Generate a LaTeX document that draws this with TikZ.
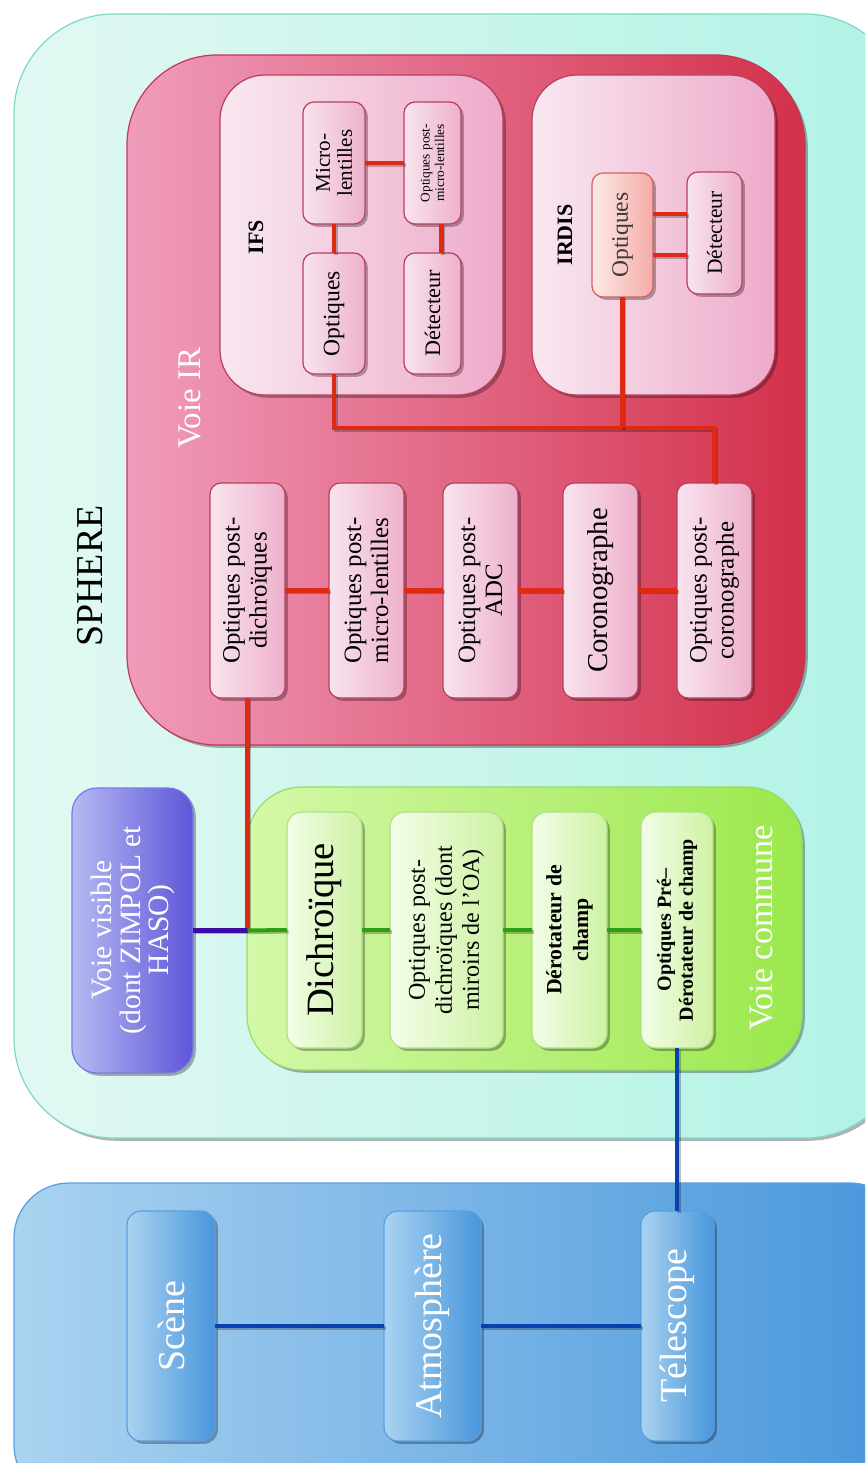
\documentclass[tikz,border=0pt]{standalone}
\usepackage{fontspec}
\setmainfont{Liberation Serif}
\usetikzlibrary{fit,shadows,calc}
\definecolor{tealL}{HTML}{E2F8F3}
\definecolor{tealR}{HTML}{B0F3E5}
\definecolor{tealD}{HTML}{7FD9CB}
\definecolor{irL}{HTML}{F09CBC}
\definecolor{irR}{HTML}{D3304A}
\definecolor{irD}{HTML}{C23A58}
\definecolor{subL}{HTML}{F8E8F0}
\definecolor{subR}{HTML}{EEAACA}
\definecolor{subD}{HTML}{B8405E}
\definecolor{pnL}{HTML}{F8E4EE}
\definecolor{pnR}{HTML}{EEB0CC}
\definecolor{salL}{HTML}{FDEAE6}
\definecolor{salR}{HTML}{F5ACA8}
\definecolor{salD}{HTML}{D66060}
\definecolor{grL}{HTML}{D4F8A8}
\definecolor{grR}{HTML}{9CE84C}
\definecolor{grD}{HTML}{98DC6A}
\definecolor{gnL}{HTML}{F3FDE8}
\definecolor{gnR}{HTML}{CDF2A2}
\definecolor{gnD}{HTML}{B0E088}
\definecolor{vvL}{HTML}{B6BAF2}
\definecolor{vvR}{HTML}{5E56D8}
\definecolor{vvD}{HTML}{7C7AE2}
\definecolor{blL}{HTML}{AAD3F0}
\definecolor{blR}{HTML}{4896DC}
\definecolor{blD}{HTML}{5AA0E0}
\definecolor{lred}{HTML}{DE2A12}
\definecolor{lgreen}{HTML}{2AA012}
\definecolor{lpurple}{HTML}{3C0CA8}
\definecolor{lblue}{HTML}{0A40B0}
\definecolor{txtgray}{HTML}{3A3A3A}
\tikzset{
  boxbase/.style={inner sep=0pt, outer sep=0pt, line width=0.7pt,
    drop shadow={shadow xshift=1.6pt, shadow yshift=-1.6pt, opacity=0.3, fill=black}},
  tealbox/.style={boxbase, rounded corners=2cm, draw=tealD, left color=tealL, right color=tealR},
  irbox/.style={boxbase, rounded corners=1.8cm, draw=irD, left color=irL, right color=irR},
  subbox/.style={boxbase, rounded corners=0.9cm, draw=subD, left color=subL, right color=subR},
  pinknode/.style={boxbase, rounded corners=0.22cm, draw=subD, left color=pnL, right color=pnR},
  salnode/.style={boxbase, rounded corners=0.22cm, draw=salD, left color=salL, right color=salR},
  greenbox/.style={boxbase, rounded corners=1.1cm, draw=grD, left color=grL, right color=grR},
  greennode/.style={boxbase, rounded corners=0.3cm, draw=gnD, left color=gnL, right color=gnR},
  visbox/.style={boxbase, rounded corners=0.5cm, draw=vvD, left color=vvL, right color=vvR},
  bluebox/.style={boxbase, rounded corners=1.1cm, draw=blD, left color=blL, right color=blR},
  bluenode/.style={boxbase, rounded corners=0.28cm, draw=blD, left color=blL, right color=blR},
  vtext/.style={rotate=90, align=center, inner sep=0pt},
  wire/.style={line width=2.3pt,
    preaction={draw=black, opacity=0.25, line width=2.3pt,
      transform canvas={shift={(0.9pt,-0.9pt)}}}},
}
\begin{document}
\begin{tikzpicture}[x=0.02cm,y=-0.02cm]
\useasboundingbox (0,0) rectangle (865,1463);
\clip (0,0) rectangle (865,1463);

% ---------- containers ----------
\node[tealbox, fit={(14,14) (905,1138)}] (sphere) {};
\node[vtext, font=\fontsize{21.6}{24}\selectfont] (sphere-t) at (90,576) {SPHERE};

\node[irbox, fit={(127,55) (805,745)}] (voieir) {};
\node[vtext, font=\fontsize{18.8}{21}\selectfont, text=white] (voieir-t) at (190,398) {Voie IR};

\node[subbox, fit={(220,75) (503,395)}] (ifs) {};
\node[vtext, font=\bfseries\fontsize{12.5}{14}\selectfont] (ifs-t) at (256,237) {IFS};

\node[subbox, fit={(532,75) (775,395)}] (irdis) {};
\node[vtext, font=\bfseries\fontsize{12.5}{14}\selectfont] (irdis-t) at (565,235) {IRDIS};

\node[greenbox, fit={(247,787) (802,1070)}] (commune) {};
\node[vtext, font=\fontsize{19.4}{22}\selectfont, text=white] (commune-t) at (761,928) {Voie commune};

\node[visbox, fit={(72,788) (193,1073)}] (vv) {};
\node[vtext, font=\fontsize{16.8}{16}\selectfont, text=white] (vv-t) at (133,930) {Voie visible\\(dont ZIMPOL et\\HASO)};

\node[bluebox, fit={(14,1183) (905,1500)}] (ext) {};

% ---------- IFS nodes ----------
\node[pinknode, fit={(303,102) (365,224)}] (micro) {};
\node[vtext, font=\fontsize{12}{12.6}\selectfont] (micro-t) at (micro) {Micro-\\lentilles};
\node[pinknode, fit={(404,102) (461,224)}] (pml) {};
\node[vtext, font=\fontsize{7.6}{8.2}\selectfont] (pml-t) at (pml) {Optiques post-\\micro-lentilles};
\node[pinknode, fit={(303,253) (365,374)}] (ifsopt) {};
\node[vtext, font=\fontsize{13.4}{15}\selectfont] (ifsopt-t) at (ifsopt) {Optiques};
\node[pinknode, fit={(404,253) (461,374)}] (ifsdet) {};
\node[vtext, font=\fontsize{12.6}{14}\selectfont] (ifsdet-t) at (ifsdet) {Détecteur};

% ---------- IRDIS nodes ----------
\node[salnode, fit={(592,173) (653,297)}] (irdisopt) {};
\node[vtext, font=\fontsize{13.4}{15}\selectfont, text=txtgray] (irdisopt-t) at (irdisopt) {Optiques};
\node[pinknode, fit={(687,172) (742,294)}] (irdisdet) {};
\node[vtext, font=\fontsize{12.2}{14}\selectfont] (irdisdet-t) at (irdisdet) {Détecteur};

% ---------- IR chain ----------
\node[pinknode, fit={(210,483) (285,698)}] (pd) {};
\node[vtext, font=\fontsize{14.2}{15.4}\selectfont] (pd-t) at (pd) {Optiques post-\\dichroïques};
\node[pinknode, fit={(329,483) (404,698)}] (pml2) {};
\node[vtext, font=\fontsize{14.2}{15.4}\selectfont] (pml2-t) at (pml2) {Optiques post-\\micro-lentilles};
\node[pinknode, fit={(443,483) (518,698)}] (padc) {};
\node[vtext, font=\fontsize{14.2}{15.4}\selectfont] (padc-t) at (padc) {Optiques post-\\ADC};
\node[pinknode, fit={(563,483) (638,698)}] (coro) {};
\node[vtext, font=\fontsize{16.4}{18}\selectfont] (coro-t) at (coro) {Coronographe};
\node[pinknode, fit={(677,483) (752,698)}] (pcoro) {};
\node[vtext, font=\fontsize{14.2}{15.4}\selectfont] (pcoro-t) at (pcoro) {Optiques post-\\coronographe};

% ---------- common path ----------
\node[greennode, fit={(287,812) (362,1048)}] (dich) {};
\node[vtext, font=\fontsize{22}{24}\selectfont] (dich-t) at (dich) {Dichroïque};
\node[greennode, fit={(390,812) (503,1048)}] (popt) {};
\node[vtext, font=\fontsize{13.7}{15.4}\selectfont] (popt-t) at (popt) {Optiques post-\\dichroïques (dont\\miroirs de l’OA)};
\node[greennode, fit={(532,812) (607,1048)}] (derot) {};
\node[vtext, font=\bfseries\fontsize{12.4}{15.2}\selectfont] (derot-t) at (derot) {Dérotateur de\\champ};
\node[greennode, fit={(641,812) (713,1048)}] (pre) {};
\node[vtext, font=\bfseries\fontsize{11.4}{12.6}\selectfont] (pre-t) at (pre) {Optiques Pré–\\Dérotateur de champ};

% ---------- external ----------
\node[bluenode, fit={(127,1211) (215,1441)}] (scene) {};
\node[vtext, font=\fontsize{21.6}{24}\selectfont, text=white] (scene-t) at (scene) {Scène};
\node[bluenode, fit={(384,1211) (481,1441)}] (atmo) {};
\node[vtext, font=\fontsize{21.6}{24}\selectfont, text=white] (atmo-t) at (atmo) {Atmosphère};
\node[bluenode, fit={(641,1211) (714,1441)}] (tele) {};
\node[vtext, font=\fontsize{21.6}{24}\selectfont, text=white] (tele-t) at (tele) {Télescope};

% ---------- connectors ----------
\coordinate (rowir) at (0,428);
\draw[wire, lred] (micro) -- (pml);
\draw[wire, lred] (micro) -- (ifsopt);
\draw[wire, lred] ([xshift=0.18cm]pml.south) -- ([xshift=0.18cm]ifsdet.north);
\draw[wire, lred] ([yshift=0.42cm]irdisopt.east) -- ([yshift=0.42cm]irdisopt.east -| irdisdet.west);
\draw[wire, lred] ([yshift=-0.4cm]irdisopt.east) -- ([yshift=-0.4cm]irdisopt.east -| irdisdet.west);
\draw[wire, lred] (ifsopt.south) |- (pcoro.north |- rowir) -- (pcoro.north);
\draw[wire, lred] (irdisopt.south) -- (irdisopt.south |- rowir);
\draw[wire, lred] (pd) -- (pml2);
\draw[wire, lred] (pml2) -- (padc);
\draw[wire, lred] (padc) -- (coro);
\draw[wire, lred] (coro) -- (pcoro);
\coordinate (jv) at (pd.south |- vv.east);
\draw[wire, lred] (pd.south) -- (jv);
\draw[wire, lpurple] (vv.east) -- (jv);
\draw[wire, lgreen] (jv) -- (dich.west);
\draw[wire, lgreen] (dich) -- (popt);
\draw[wire, lgreen] (popt) -- (derot);
\draw[wire, lgreen] (derot) -- (pre);
\draw[wire, lblue] (pre.south) -- (pre.south |- tele.north);
\draw[wire, lblue] (scene) -- (atmo);
\draw[wire, lblue] (atmo) -- (tele);
\end{tikzpicture}
\end{document}
